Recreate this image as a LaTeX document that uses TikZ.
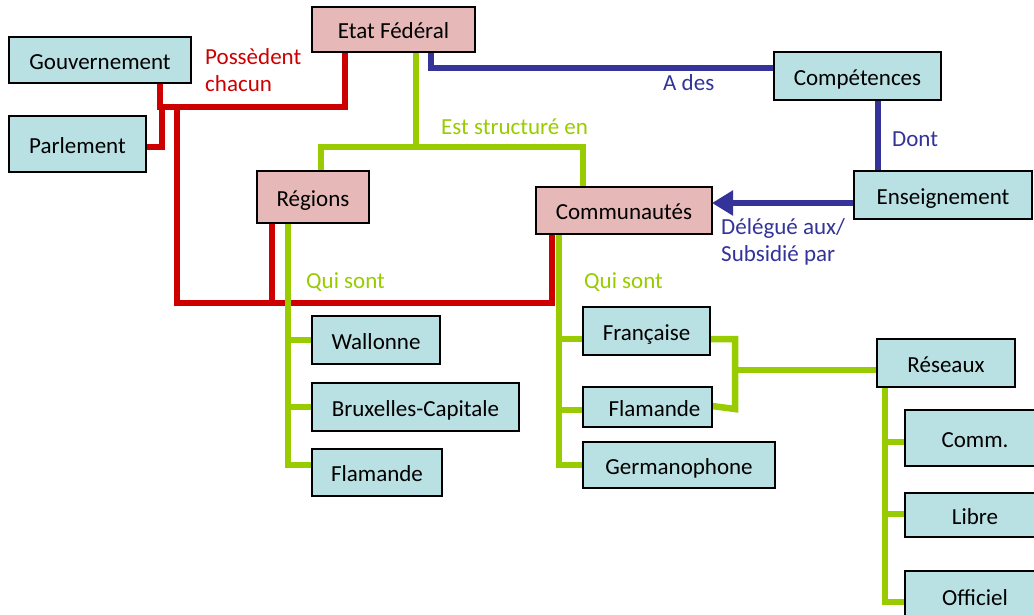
\documentclass[tikz,border=0pt]{standalone}
\usepackage{fontspec}
\setmainfont{Carlito}
\usetikzlibrary{arrows.meta}
\definecolor{boxpink}{HTML}{E6B9B8}
\definecolor{boxcyan}{HTML}{B9E0E3}
\definecolor{linkred}{HTML}{CC0000}
\definecolor{linkgreen}{HTML}{99CC00}
\definecolor{linkblue}{HTML}{333399}
\begin{document}
\begin{tikzpicture}[x=1pt,y=-1pt,
  font=\fontsize{23}{27}\selectfont,
  box/.style={draw=black,line width=1.6pt,inner sep=0pt,text=black,
    text height=18pt,text depth=0pt},
  pinkbox/.style={box,fill=boxpink},
  cyanbox/.style={box,fill=boxcyan},
  redlink/.style={draw=linkred,line width=6.5pt,line join=miter},
  greenlink/.style={draw=linkgreen,line width=6.5pt,line join=miter},
  bluelink/.style={draw=linkblue,line width=6.5pt,line join=miter},
  tag/.style={inner sep=0pt,anchor=west,align=left}]
\clip (0,0) rectangle (1034,614);
\fill[white] (0,0) rectangle (1034,614);

% connectors (drawn first, boxes on top)
% red: Gouvernement / Parlement
\draw[redlink] (345,52) |- (160,107) -- (160,83);
\draw[redlink] (146,147) -| (162,107);
\draw[redlink] (177,107) |- (552,303) -- (552,234);
\draw[redlink] (272,223) -- (272,303);

% green: structure
\draw[greenlink] (416,52) -- (416,147);
\draw[greenlink] (321,171) -- (321,147) -| (583,187);
\draw[greenlink] (288,223) |- (312,465);
\draw[greenlink] (288,340) -- (312,340);
\draw[greenlink] (288,407) -- (312,407);
\draw[greenlink] (559,234) |- (583,465);
\draw[greenlink] (559,339) -- (583,339);
\draw[greenlink] (559,410) -- (583,410);
\draw[greenlink] (710,339) -| (735,409) -- (712,406);
\draw[greenlink] (735,370) -- (877,370);
\draw[greenlink] (885,387) |- (905,602);
\draw[greenlink] (885,442) -- (905,442);
\draw[greenlink] (885,514) -- (905,514);

% blue: competences
\draw[bluelink] (431,52) |- (774,68);
\draw[bluelink] (878,100) -- (878,171);
\draw[bluelink,-{Triangle[length=21pt,width=24pt]}] (854,203) -- (712,203);

% boxes
\node[pinkbox,minimum width=163pt,minimum height=45pt] (etat) at (393.5,29.5) {Etat Fédéral};
\node[cyanbox,minimum width=182pt,minimum height=46pt] (gouv) at (100,60) {Gouvernement};
\node[cyanbox,minimum width=137pt,minimum height=56pt] (parl) at (77.5,144) {Parlement};
\node[cyanbox,minimum width=167pt,minimum height=48pt] (comp) at (857.5,76) {Compétences};
\node[cyanbox,minimum width=178pt,minimum height=48pt] (ens) at (943,195) {Enseignement};
\node[pinkbox,minimum width=112pt,minimum height=52pt] (reg) at (313,197) {Régions};
\node[pinkbox,minimum width=176pt,minimum height=47pt] (comm) at (624,210.5) {Communautés};
\node[cyanbox,minimum width=128pt,minimum height=48pt] (wal) at (376,340) {Wallonne};
\node[cyanbox,minimum width=207pt,minimum height=48pt] (bxl) at (415.5,407) {Bruxelles-Capitale};
\node[cyanbox,minimum width=130pt,minimum height=47pt] (flr) at (377,472.5) {Flamande};
\node[cyanbox,minimum width=127pt,minimum height=48pt] (fr) at (646.5,331) {Française};
\node[cyanbox,minimum width=129pt,minimum height=40pt] (flc) at (647.5,407) {\hspace*{14pt}Flamande};
\node[cyanbox,minimum width=192pt,minimum height=46pt] (germ) at (679,465) {Germanophone};
\node[cyanbox,minimum width=138pt,minimum height=48pt] (res) at (946,363) {Réseaux};
\node[cyanbox,minimum width=140pt,minimum height=56pt] (rcomm) at (975,438) {Comm.};
\node[cyanbox,minimum width=140pt,minimum height=44pt] (libre) at (975,515) {Libre};
\node[cyanbox,minimum width=140pt,minimum height=50pt] (off) at (975,596) {Officiel};

% link labels
\node[tag,text=linkred] (lposs) at (205,70) {Possèdent\\chacun};
\node[tag,text=linkgreen] (lstruct) at (441,127) {Est structuré en};
\node[tag,text=linkgreen] (lqui1) at (306,282) {Qui sont};
\node[tag,text=linkgreen] (lqui2) at (584,282) {Qui sont};
\node[tag,text=linkblue] (ldes) at (663,83) {A des};
\node[tag,text=linkblue] (ldont) at (892,139) {Dont};
\node[tag,text=linkblue] (ldel) at (721,242) {Délégué aux/\\Subsidié par};
\end{tikzpicture}
\end{document}
